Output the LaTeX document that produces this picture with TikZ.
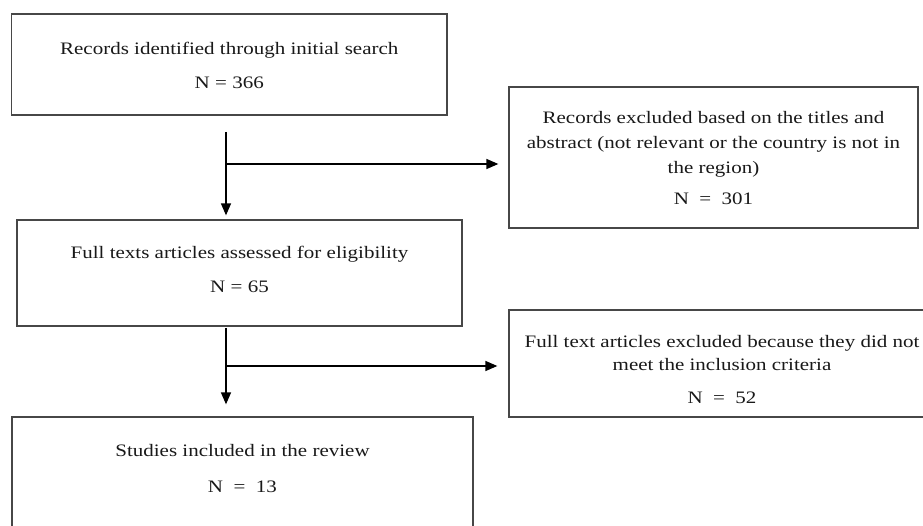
\documentclass[tikz,border=0pt]{standalone}
\usepackage{fontspec}
\setmainfont[FakeStretch=1.2]{Liberation Serif}
\usetikzlibrary{arrows.meta,calc}
\begin{document}
\begin{tikzpicture}[x=1pt,y=-1pt,
  box/.style={draw=black!72, line width=1.3pt, align=center, inner sep=0pt, font=\fontsize{17.5}{25}\selectfont, text=black!90},
  txt/.style={align=center, inner sep=0pt, font=\fontsize{17.5}{25}\selectfont, text=black!90},
  arr/.style={draw=black, line width=1.5pt, -{Triangle[length=12pt,width=10pt]}}]
\useasboundingbox (0,0) rectangle (923,526);
\clip (0,0) rectangle (923,526);
\fill[white] (0,0) rectangle (923,526);
\node[box, minimum width=435.5pt, minimum height=101pt] (rec) at (229.25,64.5) {};
\node[txt] (rect) at (229.25,65.5) {Records identified through initial search\\[9pt]N = 366};
\node[box, minimum width=409pt, minimum height=141pt] (ex1) at (713.5,157.5) {};
\node[txt] (ex1t) at (713.5,158.5)
  {Records excluded based on the titles and\\abstract (not relevant or the country is not in\\the region)\\[6pt]N \ = \ 301};
\node[box, minimum width=445pt, minimum height=106pt] (mid) at (239.5,273) {};
\node[txt] (midt) at (239.5,269) {Full texts articles assessed for eligibility\\[9pt]N = 65};
\node[box, minimum width=426pt, minimum height=107pt] (ex2) at (722,363.5) {};
\node[txt] (ex2t) at (722,370)
  {Full text articles excluded because they did not\\[-2pt]meet the inclusion criteria\\[8pt]N \ = \ 52};
\node[box, minimum width=461pt, minimum height=130pt] (inc) at (242.5,482) {};
\node[txt] (inct) at (242.5,469) {Studies included in the review\\[11pt]N \ = \ 13};
\coordinate (s1) at (226,132);
\coordinate (j1) at (226,164);
\coordinate (s2) at (226,328);
\coordinate (j2) at (226,366);
\draw[arr, shorten >=4pt] (s1) -- (s1 |- mid.north);
\draw[arr, shorten >=10pt] (j1) -- (j1 -| ex1.west);
\draw[arr, shorten >=12pt] (s2) -- (s2 |- inc.north);
\draw[arr, shorten >=11pt] (j2) -- (j2 -| ex2.west);
\end{tikzpicture}
\end{document}
